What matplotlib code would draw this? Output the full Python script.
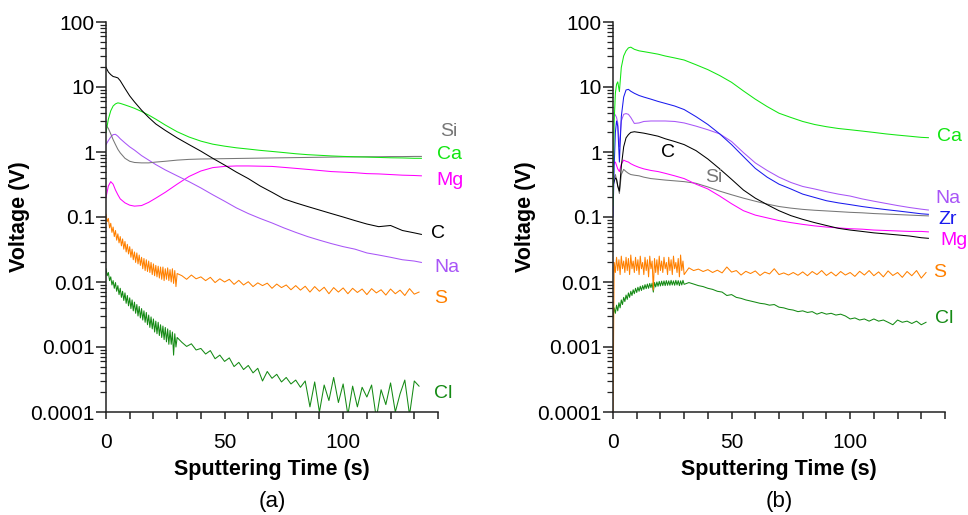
import numpy as np
import matplotlib
matplotlib.use("Agg")
import matplotlib.pyplot as plt
from matplotlib.ticker import LogLocator, MultipleLocator, NullFormatter, FixedFormatter, FixedLocator

plt.rcParams['font.family'] = ['Liberation Sans', 'DejaVu Sans']

# ---------------- data, panel (a) ----------------
t_a = [0, 1, 2, 3, 4, 5, 6, 8, 10, 12, 15, 18, 21, 25, 30, 35, 40, 45, 50, 55, 60,
       65, 70, 75, 80, 85, 90, 95, 100, 105, 110, 115, 120, 125, 130, 133]
C_a = [20, 17, 15.5, 14.5, 14.2, 13.8, 12.5, 9.5, 7.3, 5.9, 4.4, 3.4, 2.7, 2.15, 1.65, 1.3,
       1.03, 0.8, 0.63, 0.49, 0.39, 0.30, 0.24, 0.19, 0.165, 0.145, 0.128, 0.113, 0.1,
       0.088, 0.078, 0.071, 0.074, 0.062, 0.057, 0.054]
Ca_a = [2.0, 3.2, 4.3, 5.1, 5.5, 5.7, 5.6, 5.3, 5.0, 4.7, 4.2, 3.7, 3.2, 2.6, 2.05, 1.7,
        1.47, 1.32, 1.23, 1.16, 1.11, 1.06, 1.02, 0.98, 0.94, 0.91, 0.89, 0.87, 0.855,
        0.845, 0.835, 0.825, 0.815, 0.81, 0.8, 0.8]
Si_a = [2.6, 2.3, 1.9, 1.55, 1.3, 1.1, 0.97, 0.8, 0.72, 0.69, 0.68, 0.68, 0.7, 0.72, 0.75,
        0.77, 0.78, 0.785, 0.79, 0.795, 0.8, 0.805, 0.81, 0.815, 0.82, 0.825, 0.83, 0.835,
        0.84, 0.84, 0.845, 0.845, 0.85, 0.85, 0.855, 0.855]
Na_a = [1.3, 1.5, 1.7, 1.85, 1.87, 1.75, 1.6, 1.38, 1.2, 1.07, 0.88, 0.75, 0.64, 0.53, 0.43,
        0.35, 0.28, 0.22, 0.175, 0.138, 0.113, 0.095, 0.081, 0.068, 0.058, 0.05, 0.044,
        0.039, 0.035, 0.032, 0.028, 0.026, 0.024, 0.022, 0.021, 0.02]
Mg_a = [0.2, 0.3, 0.35, 0.32, 0.26, 0.22, 0.19, 0.165, 0.152, 0.147, 0.15, 0.168, 0.195,
        0.24, 0.32, 0.42, 0.51, 0.575, 0.6, 0.61, 0.61, 0.605, 0.6, 0.58, 0.56, 0.54, 0.52,
        0.5, 0.49, 0.48, 0.465, 0.46, 0.45, 0.44, 0.435, 0.43]

# noisy channels: 0.5 s steps up to 30 s, 2 s steps afterwards
t_noisy = [i * 0.5 for i in range(61)] + list(range(32, 133, 2))
S_a = [0.110, 0.085, 0.095, 0.068, 0.080, 0.058, 0.070, 0.050, 0.062, 0.044,
       0.055, 0.040, 0.050, 0.036, 0.046, 0.032, 0.042, 0.029, 0.038, 0.027,
       0.035, 0.024, 0.032, 0.022, 0.029, 0.020, 0.028, 0.019, 0.026, 0.018,
       0.024, 0.016, 0.023, 0.015, 0.022, 0.0145, 0.021, 0.014, 0.020, 0.013,
       0.019, 0.0125, 0.018, 0.012, 0.0175, 0.0115, 0.017, 0.011, 0.017, 0.0105,
       0.016, 0.011, 0.0165, 0.0105, 0.0155, 0.010, 0.016, 0.0095, 0.015, 0.0085,
       0.0135,
       0.0125, 0.0110, 0.0128, 0.0112, 0.0120, 0.0105, 0.0118, 0.0098, 0.0112, 0.0100,
       0.0110, 0.0092, 0.0106, 0.0090, 0.0101, 0.0085, 0.0097, 0.0088, 0.0096, 0.0080,
       0.0093, 0.0082, 0.0090, 0.0076, 0.0088, 0.0075, 0.0086, 0.0070, 0.0085, 0.0072,
       0.0083, 0.0066, 0.0082, 0.0070, 0.0081, 0.0066, 0.0080, 0.0069, 0.0078, 0.0064,
       0.0079, 0.0068, 0.0076, 0.0063, 0.0078, 0.0066, 0.0075, 0.0062, 0.0079, 0.0065,
       0.0070]
Cl_a = [0.0160, 0.0125, 0.0140, 0.0105, 0.0120, 0.0090, 0.0105, 0.0080, 0.0098, 0.0072,
        0.0088, 0.0064, 0.0080, 0.0058, 0.0072, 0.0052, 0.0068, 0.0047, 0.0062, 0.0043,
        0.0057, 0.0039, 0.0053, 0.0036, 0.0049, 0.0033, 0.0045, 0.0030, 0.0042, 0.0028,
        0.0039, 0.0026, 0.0036, 0.0024, 0.0034, 0.0022, 0.0031, 0.0020, 0.0029, 0.0019,
        0.0027, 0.0017, 0.0025, 0.0016, 0.0024, 0.0015, 0.0022, 0.0014, 0.0021, 0.0013,
        0.0020, 0.0012, 0.0019, 0.0011, 0.0018, 0.0011, 0.0017, 0.00075, 0.0016, 0.0010,
        0.0014,
        0.00118, 0.00102, 0.00112, 0.00090, 0.00095, 0.00078, 0.00088, 0.00066, 0.00075,
        0.00060, 0.00068, 0.00050, 0.00058, 0.00045, 0.00052, 0.00040, 0.00047, 0.00030,
        0.00042, 0.00033, 0.00038, 0.00029, 0.00034, 0.00027, 0.00031, 0.00024, 0.00030,
        0.00012, 0.00029, 0.00010, 0.00026, 0.00015, 0.00034, 0.00014, 0.00027, 0.00009,
        0.00025, 0.00012, 0.00024, 0.00017, 0.00026, 0.00008, 0.00022, 0.00013, 0.00028,
        0.00010, 0.00019, 0.00031, 0.00009, 0.00030, 0.00025]

# ---------------- data, panel (b) ----------------
t_b = [0, 0.5, 1, 1.5, 2, 2.7, 3.5, 4.5, 5.5, 6.5, 7.5, 9, 11, 13, 16, 19, 22, 26, 30, 35,
       40, 45, 50, 55, 60, 65, 70, 75, 80, 85, 90, 95, 100, 105, 110, 115, 120, 125, 130, 133]
Ca_b = [0.15, 3, 8, 11, 12, 8.5, 20, 30, 36, 40, 41, 38, 36, 35, 33.5, 32, 30, 28, 26, 22,
        18.5, 15, 11.8, 8.7, 6.5, 5.0, 3.95, 3.4, 2.95, 2.65, 2.45, 2.3, 2.2, 2.1, 2.0, 1.9,
        1.82, 1.75, 1.68, 1.66]
Zr_b = [0.1, 0.6, 2.0, 3.0, 2.5, 0.7, 3.5, 7, 9, 9.2, 8.6, 8.0, 7.4, 7.0, 6.5, 6.0, 5.6,
        5.1, 4.5, 3.5, 2.65, 1.9, 1.3, 0.85, 0.56, 0.41, 0.32, 0.27, 0.225, 0.2, 0.178,
        0.165, 0.155, 0.145, 0.137, 0.13, 0.124, 0.118, 0.112, 0.11]
Na_b = [4.0, 3.9, 3.7, 3.4, 2.8, 1.2, 3.0, 3.8, 3.9, 3.8, 3.4, 2.75, 2.8, 2.95, 3.0, 3.0,
        3.0, 2.95, 2.8, 2.5, 2.2, 1.9, 1.45, 0.98, 0.68, 0.52, 0.41, 0.34, 0.295, 0.27,
        0.245, 0.225, 0.21, 0.19, 0.175, 0.162, 0.15, 0.14, 0.132, 0.128]
C_b = [0.3, 0.35, 0.4, 0.38, 0.3, 0.25, 0.6, 1.2, 1.65, 1.85, 2.0, 2.05, 2.0, 1.95, 1.85,
       1.75, 1.6, 1.45, 1.3, 1.05, 0.78, 0.55, 0.38, 0.26, 0.195, 0.155, 0.125, 0.105,
       0.092, 0.082, 0.074, 0.067, 0.063, 0.06, 0.057, 0.055, 0.053, 0.051, 0.048, 0.047]
Mg_b = [0.6, 0.68, 0.7, 0.62, 0.55, 0.5, 0.65, 0.75, 0.72, 0.7, 0.66, 0.62, 0.58, 0.55,
        0.52, 0.5, 0.47, 0.43, 0.39, 0.32, 0.27, 0.21, 0.16, 0.125, 0.107, 0.097, 0.088,
        0.082, 0.077, 0.073, 0.07, 0.068, 0.066, 0.065, 0.063, 0.062, 0.061, 0.06, 0.06,
        0.059]
Si_b = [0.35, 0.4, 0.45, 0.38, 0.3, 0.23, 0.45, 0.54, 0.5, 0.47, 0.45, 0.44, 0.43, 0.41,
        0.39, 0.38, 0.37, 0.36, 0.35, 0.33, 0.29, 0.25, 0.22, 0.195, 0.175, 0.158, 0.145,
        0.137, 0.131, 0.127, 0.124, 0.121, 0.118, 0.116, 0.113, 0.111, 0.109, 0.107,
        0.105, 0.104]
S_b = [0.0001, 0.020, 0.014, 0.024, 0.015, 0.022, 0.013, 0.025, 0.016, 0.021,
       0.014, 0.024, 0.015, 0.023, 0.013, 0.026, 0.016, 0.021, 0.014, 0.024,
       0.015, 0.022, 0.013, 0.025, 0.016, 0.020, 0.013, 0.024, 0.015, 0.022,
       0.012, 0.025, 0.016, 0.021, 0.0075, 0.023, 0.014, 0.022, 0.013, 0.025,
       0.015, 0.021, 0.014, 0.024, 0.016, 0.020, 0.013, 0.024, 0.015, 0.022,
       0.013, 0.025, 0.016, 0.020, 0.014, 0.023, 0.012, 0.026, 0.015, 0.021,
       0.013,
       0.0165, 0.0150, 0.0158, 0.0145, 0.0155, 0.0140, 0.0152, 0.0138, 0.0170, 0.0142,
       0.0150, 0.0128, 0.0146, 0.0135, 0.0148, 0.0126, 0.0142, 0.0133, 0.0160, 0.0130,
       0.0138, 0.0128, 0.0140, 0.0127, 0.0143, 0.0125, 0.0145, 0.0130, 0.0150, 0.0126,
       0.0142, 0.0124, 0.0145, 0.0128, 0.0140, 0.0122, 0.0146, 0.0128, 0.0150, 0.0125,
       0.0143, 0.0120, 0.0148, 0.0126, 0.0140, 0.0118, 0.0145, 0.0125, 0.0150, 0.0115,
       0.0140]
Cl_b = [0.0028, 0.0040, 0.0033, 0.0044, 0.0036, 0.0048, 0.0040, 0.0053, 0.0045, 0.0058,
        0.0050, 0.0063, 0.0054, 0.0068, 0.0058, 0.0072, 0.0062, 0.0076, 0.0066, 0.0080,
        0.0069, 0.0083, 0.0072, 0.0086, 0.0074, 0.0088, 0.0077, 0.0091, 0.0079, 0.0093,
        0.0080, 0.0095, 0.0082, 0.0096, 0.0070, 0.0098, 0.0084, 0.0100, 0.0086, 0.0102,
        0.0087, 0.0103, 0.0088, 0.0104, 0.0088, 0.0105, 0.0089, 0.0104, 0.0089, 0.0106,
        0.0090, 0.0104, 0.0089, 0.0106, 0.0090, 0.0105, 0.0088, 0.0104, 0.0090, 0.0106,
        0.0092,
        0.0098, 0.0093, 0.0088, 0.0085, 0.0080, 0.0077, 0.0072, 0.0070, 0.0062, 0.0064,
        0.0058, 0.0056, 0.0053, 0.0051, 0.0049, 0.0047, 0.0046, 0.0044, 0.0045, 0.0041,
        0.0040, 0.0038, 0.0037, 0.0035, 0.0036, 0.0034, 0.0035, 0.0032, 0.0034, 0.0032,
        0.0033, 0.0031, 0.0032, 0.0030, 0.0027, 0.0028, 0.0026, 0.0027, 0.0025, 0.0027,
        0.0025, 0.0026, 0.0024, 0.0022, 0.0026, 0.0024, 0.0025, 0.0023, 0.0025, 0.0022,
        0.0024]

colors = {'Si': '#777777', 'Ca': '#11e611', 'Mg': '#ff00ff', 'C': '#000000',
          'Na': '#a855f7', 'S': '#ff8000', 'Cl': '#148a14', 'Zr': '#1a1aee'}

W, H = 968, 515
fig = plt.figure(figsize=(W / 100, H / 100), dpi=100)


def make_axes(left_px, right_px):
    ax = fig.add_axes([left_px / W, 1 - 412 / H, (right_px - left_px) / W, (412 - 22) / H])
    ax.set_yscale('log')
    ax.set_xlim(0, 140)
    ax.set_ylim(1e-4, 100)
    for s in ['top', 'right']:
        ax.spines[s].set_visible(False)
    for s in ['left', 'bottom']:
        ax.spines[s].set_linewidth(1.1)
        ax.spines[s].set_color('#222222')
    ax.xaxis.set_major_locator(MultipleLocator(50))
    ax.xaxis.set_minor_locator(MultipleLocator(10))
    yt = [1e-4, 1e-3, 1e-2, 1e-1, 1, 10, 100]
    ax.yaxis.set_major_locator(FixedLocator(yt))
    ax.yaxis.set_major_formatter(FixedFormatter(['0.0001', '0.001', '0.01', '0.1', '1', '10', '100']))
    ax.yaxis.set_minor_locator(LogLocator(base=10, subs=np.arange(2, 10), numticks=10))
    ax.yaxis.set_minor_formatter(NullFormatter())
    ax.tick_params(axis='y', which='major', length=7, width=1.1, labelsize=15, pad=1, color='#222222')
    ax.tick_params(axis='y', which='minor', length=4, width=0.9, color='#222222')
    ax.tick_params(axis='x', which='both', length=5, width=1.1, labelsize=15, pad=10, color='#222222')
    return ax


ax1 = make_axes(106, 438)
ax2 = make_axes(613, 945)

lw = 0.75
for name, t, v in [('Cl', t_noisy, Cl_a), ('S', t_noisy, S_a), ('Mg', t_a, Mg_a),
                   ('Na', t_a, Na_a), ('Si', t_a, Si_a), ('Ca', t_a, Ca_a), ('C', t_a, C_a)]:
    ax1.plot(t, v, color=colors[name], lw=lw)

for name, t, v in [('Cl', t_noisy, Cl_b), ('S', t_noisy, S_b), ('Si', t_b, Si_b),
                   ('Mg', t_b, Mg_b), ('C', t_b, C_b), ('Na', t_b, Na_b), ('Zr', t_b, Zr_b),
                   ('Ca', t_b, Ca_b)]:
    ax2.plot(t, v, color=colors[name], lw=lw)

labels_a = [('Si', 144.4, 2.1), ('Ca', 145, 0.93), ('Mg', 145, 0.36), ('C', 140, 0.055),
            ('Na', 143.6, 0.017), ('S', 141, 0.0055), ('Cl', 142, 0.00019)]
labels_b = [('Ca', 142, 1.76), ('Na', 141.3, 0.196), ('Zr', 141.3, 0.09), ('Mg', 144, 0.044),
            ('S', 137.9, 0.0138), ('Cl', 139.6, 0.0027), ('C', 23.4, 0.97), ('Si', 42.6, 0.4)]
for ax, labs in [(ax1, labels_a), (ax2, labels_b)]:
    for name, x, y in labs:
        ax.text(x, y, name, color=colors[name], fontsize=14, ha='center', va='center',
                clip_on=False)

for cx, lab in [(272, '(a)'), (779, '(b)')]:
    fig.text(cx / W, 1 - 470 / H, 'Sputtering Time (s)', fontsize=15.5, fontweight='bold',
             ha='center', va='center')
    fig.text(cx / W, 1 - 502 / H, lab, fontsize=16, ha='center', va='center')
for cx in [20, 525]:
    fig.text(cx / W, 1 - 217 / H, 'Voltage (V)', fontsize=15.5, fontweight='bold',
             rotation=90, ha='center', va='center')

fig.savefig('out.png', dpi=100)
